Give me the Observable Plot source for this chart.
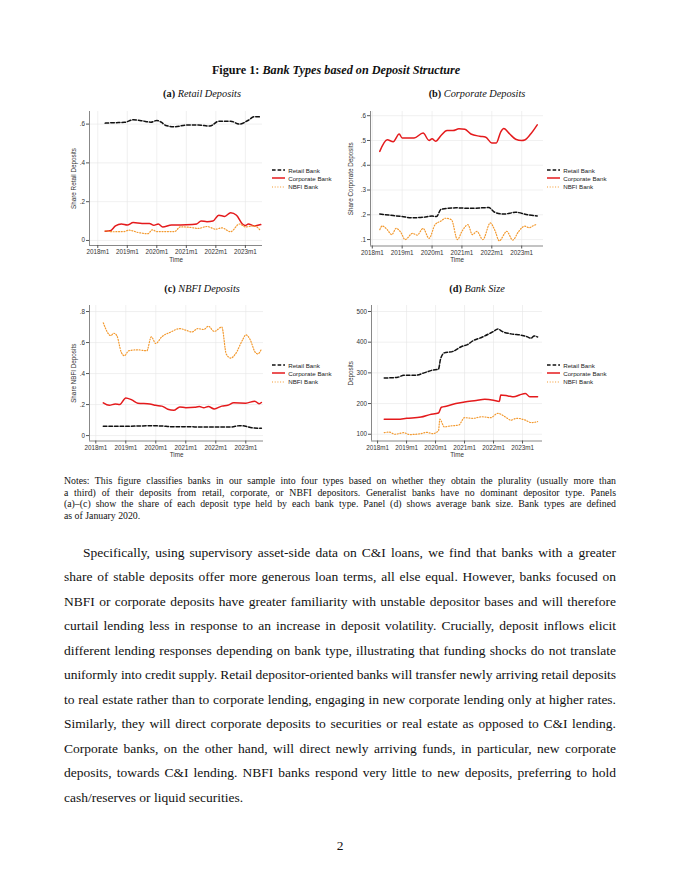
<!DOCTYPE html>
<html><head><meta charset="utf-8">
<script src="https://cdn.jsdelivr.net/npm/d3@7"></script>
<script src="https://cdn.jsdelivr.net/npm/@observablehq/plot@0.6"></script>
<style>
body{margin:0;background:#fff;}
#page{position:relative;width:680px;height:880px;background:#fff;overflow:hidden;font-family:"Liberation Serif","Times New Roman",serif;color:#111;}
.ttl{position:absolute;white-space:nowrap;transform:translate(-50%,-50%);}
.leg{position:absolute;font-family:"Liberation Sans",Arial,sans-serif;font-size:6.2px;color:#222;white-space:nowrap;}
.leg div{height:8.3px;display:flex;align-items:center;}
.leg svg{margin-right:3.5px;}
.ln{position:absolute;white-space:nowrap;}
.pl{position:absolute;}
</style></head><body><div id="page"></div>
<script>
// ---------- data (decimal year, value) ----------
const years = [2018, 2019, 2020, 2021, 2022, 2023];
const seriesNames = ["Retail Bank", "Corporate Bank", "NBFI Bank"];

// (a) Retail deposits share
const aRetail = [[2018.25,.605],[2018.5,.607],[2018.9,.609],[2019.2,.622],[2019.5,.617],[2019.8,.61],[2020.0,.619],[2020.15,.61],[2020.3,.593],[2020.6,.586],[2021.0,.595],[2021.4,.595],[2021.8,.59],[2022.1,.615],[2022.5,.615],[2022.8,.60],[2023.1,.62],[2023.3,.638],[2023.52,.637]];
const aCorp = [[2018.25,.048],[2018.42,.05],[2018.6,.075],[2018.8,.085],[2019.0,.08],[2019.2,.092],[2019.5,.088],[2019.75,.088],[2019.9,.078],[2020.05,.085],[2020.2,.07],[2020.5,.08],[2020.8,.08],[2021.2,.082],[2021.35,.085],[2021.5,.1],[2021.7,.097],[2021.9,.1],[2022.1,.13],[2022.3,.124],[2022.5,.143],[2022.7,.13],[2022.9,.085],[2023.0,.077],[2023.1,.085],[2023.3,.075],[2023.52,.082]];
const aNbfi = [[2018.25,.05],[2018.5,.045],[2018.9,.046],[2019.05,.053],[2019.4,.04],[2019.7,.035],[2019.85,.055],[2020.0,.046],[2020.3,.046],[2020.6,.046],[2020.8,.07],[2021.1,.068],[2021.4,.062],[2021.7,.072],[2022.0,.058],[2022.2,.065],[2022.5,.045],[2022.8,.085],[2023.0,.07],[2023.3,.075],[2023.52,.05]];

// (b) Corporate deposits share
const bRetail = [[2018.25,.203],[2018.7,.197],[2019.0,.193],[2019.3,.188],[2019.7,.19],[2020.0,.195],[2020.15,.193],[2020.3,.222],[2020.8,.228],[2021.3,.226],[2021.9,.229],[2022.1,.21],[2022.4,.203],[2022.8,.21],[2023.2,.2],[2023.52,.195]];
const bCorp = [[2018.25,.456],[2018.5,.503],[2018.7,.495],[2018.9,.526],[2019.0,.51],[2019.4,.51],[2019.7,.53],[2019.9,.50],[2020.0,.507],[2020.12,.497],[2020.3,.52],[2020.5,.54],[2020.7,.54],[2020.9,.547],[2021.1,.545],[2021.3,.526],[2021.6,.517],[2021.8,.513],[2022.0,.49],[2022.15,.49],[2022.3,.535],[2022.4,.548],[2022.6,.526],[2022.8,.505],[2023.0,.5],[2023.1,.502],[2023.3,.526],[2023.52,.563]];
const bNbfi = [[2018.25,.14],[2018.33,.155],[2018.5,.14],[2018.65,.12],[2018.8,.145],[2018.95,.13],[2019.1,.1],[2019.35,.125],[2019.5,.118],[2019.7,.145],[2019.9,.105],[2020.1,.16],[2020.3,.175],[2020.45,.186],[2020.65,.18],[2020.85,.1],[2021.0,.133],[2021.2,.16],[2021.35,.12],[2021.5,.133],[2021.7,.1],[2021.95,.167],[2022.1,.138],[2022.25,.095],[2022.5,.133],[2022.7,.098],[2022.9,.133],[2023.1,.154],[2023.25,.148],[2023.4,.157],[2023.52,.162]];

// (c) NBFI deposits share
const cRetail = [[2018.25,.06],[2019.0,.06],[2019.8,.063],[2020.2,.062],[2020.5,.057],[2021.0,.057],[2021.6,.055],[2022.5,.055],[2022.8,.064],[2023.0,.06],[2023.2,.05],[2023.52,.047]];
const cCorp = [[2018.25,.211],[2018.45,.195],[2018.65,.204],[2018.8,.2],[2019.0,.243],[2019.2,.23],[2019.4,.209],[2019.8,.204],[2020.0,.195],[2020.2,.19],[2020.4,.17],[2020.6,.163],[2020.8,.185],[2021.0,.18],[2021.3,.183],[2021.45,.187],[2021.6,.18],[2021.75,.187],[2021.95,.172],[2022.2,.19],[2022.4,.195],[2022.6,.211],[2023.0,.209],[2023.3,.222],[2023.45,.205],[2023.52,.213]];
const cNbfi = [[2018.25,.727],[2018.5,.645],[2018.6,.66],[2018.7,.645],[2018.85,.537],[2018.95,.515],[2019.1,.547],[2019.4,.553],[2019.7,.547],[2019.85,.637],[2020.0,.594],[2020.2,.637],[2020.5,.668],[2020.8,.69],[2021.0,.68],[2021.2,.668],[2021.4,.69],[2021.6,.684],[2021.75,.705],[2021.95,.672],[2022.2,.70],[2022.35,.525],[2022.5,.50],[2022.65,.525],[2022.9,.62],[2023.0,.65],[2023.15,.617],[2023.3,.542],[2023.4,.527],[2023.52,.557]];

// (d) Bank size (deposits)
const dRetail = [[2018.23,283],[2018.7,286],[2018.9,292],[2019.3,292],[2019.6,300],[2019.9,309],[2020.1,312],[2020.17,344],[2020.3,365],[2020.6,370],[2020.9,386],[2021.1,392],[2021.3,405],[2021.6,416],[2021.9,430],[2022.0,435],[2022.15,443],[2022.3,435],[2022.6,427],[2023.0,422],[2023.15,418],[2023.3,413],[2023.4,420],[2023.52,417]];
const dCorp = [[2018.23,149],[2018.7,149],[2019.0,152],[2019.5,156],[2019.8,164],[2020.1,169],[2020.2,188],[2020.4,192],[2020.7,200],[2021.0,205],[2021.4,210],[2021.7,214],[2022.0,211],[2022.2,207],[2022.25,228],[2022.5,225],[2022.7,222],[2022.9,228],[2023.1,233],[2023.25,222],[2023.52,222]];
const dNbfi = [[2018.23,105],[2018.4,107],[2018.6,100],[2018.9,105],[2019.1,99],[2019.5,102],[2019.7,106],[2019.9,102],[2020.1,111],[2020.15,149],[2020.3,124],[2020.5,127],[2020.8,130],[2021.0,154],[2021.3,152],[2021.6,157],[2021.9,154],[2022.15,168],[2022.4,157],[2022.6,146],[2022.8,152],[2023.1,146],[2023.3,138],[2023.52,141]];

// tick values
const shareTicksA = [0, .2, .4, .6];
const shareTicksB = [.1, .2, .3, .4, .5, .6];
const shareTicksC = [0, .2, .4, .6, .8];
const sizeTicks = [100, 200, 300, 400, 500];

// text
const figTitleBold = "Figure 1:";
const figTitleItalic = "Bank Types based on Deposit Structure";
const panelTitles = [["(a)", "Retail Deposits"], ["(b)", "Corporate Deposits"], ["(c)", "NBFI Deposits"], ["(d)", "Bank Size"]];
const noteLines = [
  "Notes: This figure classifies banks in our sample into four types based on whether they obtain the plurality (usually more than",
  "a third) of their deposits from retail, corporate, or NBFI depositors. Generalist banks have no dominant depositor type. Panels",
  "(a)–(c) show the share of each deposit type held by each bank type. Panel (d) shows average bank size. Bank types are defined",
  "as of January 2020."
];
const bodyLines = [
  "Specifically, using supervisory asset-side data on C&I loans, we find that banks with a greater",
  "share of stable deposits offer more generous loan terms, all else equal.  However, banks focused on",
  "NBFI or corporate deposits have greater familiarity with unstable depositor bases and will therefore",
  "curtail lending less in response to an increase in deposit volatility.  Crucially, deposit inflows elicit",
  "different lending responses depending on bank type, illustrating that funding shocks do not translate",
  "uniformly into credit supply. Retail depositor-oriented banks will transfer newly arriving retail deposits",
  "to real estate rather than to corporate lending, engaging in new corporate lending only at higher rates.",
  "Similarly, they will direct corporate deposits to securities or real estate as opposed to C&I lending.",
  "Corporate banks, on the other hand, will direct newly arriving funds, in particular, new corporate",
  "deposits, towards C&I lending.  NBFI banks respond very little to new deposits, preferring to hold",
  "cash/reserves or liquid securities."
];
const pageNumber = "2";

// ---------- styles ----------
const styles = [
  {stroke: "#111111", strokeWidth: 1.5, dash: "3.6,2"},
  {stroke: "#e41a1c", strokeWidth: 1.5, dash: null},
  {stroke: "#f39a30", strokeWidth: 1.2, dash: "1,1.7"}
];

const page = document.getElementById("page");

function el(tag, cls, css, html) {
  const e = document.createElement(tag);
  if (cls) e.className = cls;
  Object.assign(e.style, css || {});
  if (html != null) e.innerHTML = html;
  page.appendChild(e);
  return e;
}

const shareFmt = d => d === 0 ? "0" : d3.format(".1f")(d).replace(/^0/, "");

function panel(cfg) {
  const grid = {stroke: "#e6e6e6", strokeOpacity: 1, strokeWidth: 0.6};
  const marks = [
    Plot.gridX(years, grid),
    Plot.gridY(cfg.yTicks, grid),
    Plot.ruleX([cfg.xDomain[0]], {stroke: "#555", strokeWidth: 0.7}),
    Plot.ruleY([cfg.yDomain[0]], {stroke: "#555", strokeWidth: 0.7}),
    Plot.axisX({ticks: years, tickSize: 3, tickPadding: 1.5, tickFormat: d => d + "m1",
      label: "Time", labelAnchor: "center", labelArrow: "none", labelOffset: 16, stroke: "#555"}),
    Plot.axisY({ticks: cfg.yTicks, tickSize: 3, tickPadding: 1.5, tickFormat: cfg.yFmt,
      label: cfg.yLabel, labelAnchor: "center", labelArrow: "none", labelOffset: cfg.yLabelOffset, stroke: "#555"})
  ];
  cfg.series.forEach((s, i) => {
    marks.push(Plot.line(s, {x: d => d[0], y: d => d[1], stroke: styles[i].stroke,
      strokeWidth: styles[i].strokeWidth, strokeDasharray: styles[i].dash, curve: "monotone-x"}));
  });
  const chart = Plot.plot({
    width: cfg.width, height: cfg.height,
    marginLeft: cfg.mL, marginRight: cfg.mR, marginTop: cfg.mT, marginBottom: cfg.mB,
    x: {domain: cfg.xDomain},
    y: {domain: cfg.yDomain},
    style: {fontFamily: "'Liberation Sans', Arial, sans-serif", fontSize: "6.3px", color: "#333", background: "transparent", overflow: "visible"},
    marks
  });
  const wrap = el("div", "pl", {left: cfg.left + "px", top: cfg.top + "px"});
  wrap.appendChild(chart);

  // legend
  const leg = el("div", "leg", {left: cfg.legLeft + "px", top: cfg.legTop + "px"});
  seriesNames.forEach((n, i) => {
    const row = document.createElement("div");
    const st = styles[i];
    row.innerHTML = `<svg width="13" height="4"><line x1="0" x2="13" y1="2" y2="2" stroke="${st.stroke}" stroke-width="${st.strokeWidth}" ${st.dash ? `stroke-dasharray="${st.dash}"` : ""}/></svg><span>${n}</span>`;
    leg.appendChild(row);
  });
}

panel({series: [aRetail, aCorp, aNbfi], xDomain: [2017.72, 2023.58], yDomain: [-0.026, 0.665],
  yTicks: shareTicksA, yFmt: shareFmt, yLabel: "Share Retail Deposits",
  left: 60, top: 104, width: 204, height: 163, mL: 29, mR: 2, mT: 7, mB: 22, yLabelOffset: 18,
  legLeft: 271.7, legTop: 165.9});
panel({series: [bRetail, bCorp, bNbfi], xDomain: [2017.94, 2023.73], yDomain: [0.074, 0.617],
  yTicks: shareTicksB, yFmt: shareFmt, yLabel: "Share Corporate Deposits",
  left: 330, top: 104, width: 215, height: 163.5, mL: 40, mR: 2, mT: 7, mB: 22, yLabelOffset: 22,
  legLeft: 546.7, legTop: 165.9});
panel({series: [cRetail, cCorp, cNbfi], xDomain: [2017.79, 2023.59], yDomain: [-0.035, 0.839],
  yTicks: shareTicksC, yFmt: shareFmt, yLabel: "Share NBFI Deposits",
  left: 60, top: 298, width: 205, height: 164.5, mL: 29, mR: 2, mT: 7, mB: 22, yLabelOffset: 18,
  legLeft: 271.7, legTop: 360.9});
panel({series: [dRetail, dCorp, dNbfi], xDomain: [2017.79, 2023.69], yDomain: [78, 519.5],
  yTicks: sizeTicks, yFmt: d => String(d), yLabel: "Deposits",
  left: 330, top: 298, width: 214, height: 164.5, mL: 41, mR: 2, mT: 7, mB: 22, yLabelOffset: 23,
  legLeft: 546.7, legTop: 361});

// titles
el("div", "ttl", {left: "336px", top: "70px", fontSize: "12.2px", fontWeight: "bold"},
  `${figTitleBold} <i>${figTitleItalic}</i>`);
const ptPos = [[202, 93], [477, 93], [202, 288], [477, 288]];
panelTitles.forEach((t, i) => {
  el("div", "ttl", {left: ptPos[i][0] + "px", top: ptPos[i][1] + "px", fontSize: "10.3px"},
    `<b>${t[0]}</b> <i>${t[1]}</i>`);
});

// justified lines
function justLines(lines, x0, x1, yc0, step, fs, indent) {
  lines.forEach((txt, i) => {
    const left = x0 + (i === 0 ? indent : 0);
    const d = el("div", "ln", {left: left + "px", top: (yc0 + i * step - fs * 0.6) + "px", fontSize: fs + "px", lineHeight: (fs * 1.2) + "px"});
    const sp = document.createElement("span");
    sp.textContent = txt.replace(/  /g, " ");
    d.appendChild(sp);
    if (i < lines.length - 1) {
      const w = sp.getBoundingClientRect().width;
      const n = (sp.textContent.match(/ /g) || []).length;
      const target = x1 - left;
      if (w <= target) {
        if (n > 0) sp.style.wordSpacing = ((target - w) / n) + "px";
      } else {
        sp.style.letterSpacing = ((target - w) / sp.textContent.length) + "px";
      }
    }
  });
}
justLines(noteLines, 64, 616, 480.7, 11.8, 9.8, 0);
justLines(bodyLines, 64, 616, 553, 24.5, 13.5, 19);

el("div", "ttl", {left: "340px", top: "846px", fontSize: "13.5px"}, pageNumber);
</script>
</body></html>
